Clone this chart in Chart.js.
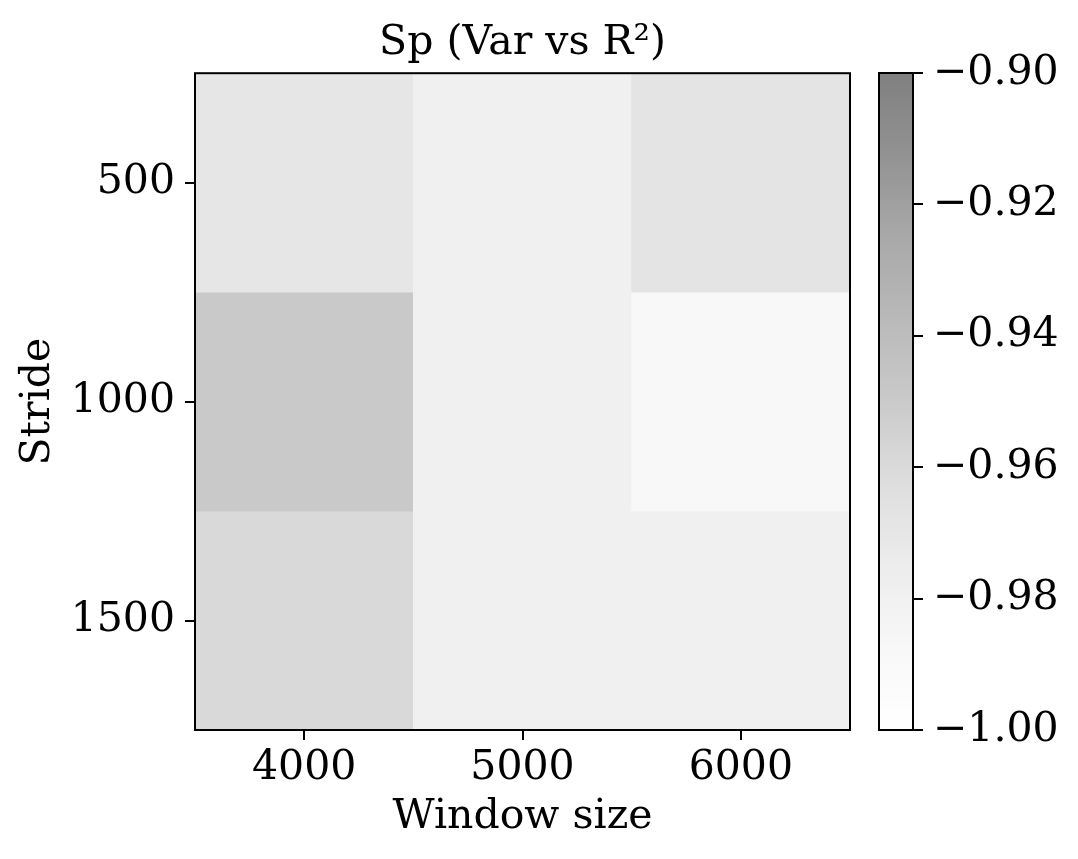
<!DOCTYPE html>
<html>
<head>
<meta charset="utf-8">
<script src="https://cdn.jsdelivr.net/npm/chart.js@4.4.1/dist/chart.umd.min.js"></script>
<style>
	html, body { margin: 0; padding: 0; background: #fff; }
	#wrap { position: relative; width: 1078px; height: 859px; }
	#wrap canvas { position: absolute; left: 0; top: 0; }
</style>
</head>
<body>
<div id="wrap">
	<canvas id="heat" width="1078" height="859"></canvas>
	<canvas id="cbar" width="1078" height="859"></canvas>
</div>
<script>
// axes
const windowSizes = ['4000', '5000', '6000'];
const strides = ['500', '1000', '1500'];

// Sp (Var vs R^2), one row per stride
const row500 = [-0.970, -0.979, -0.968];
const row1000 = [-0.949, -0.979, -0.988];
const row1500 = [-0.959, -0.979, -0.979];
const rows = [row500, row1000, row1500];

// colour bar
const vmin = -1.00;
const vmax = -0.90;
const cbTicks = [-1.00, -0.98, -0.96, -0.94, -0.92, -0.90];

// matplotlib "Greys", drawn at alpha 0.5 over white
const greys = [1.0, 0.9412, 0.8510, 0.7412, 0.5882, 0.4510, 0.3216, 0.1451, 0.0];
function cmap(v) {
	var t = Math.max(0, Math.min(1, (v - vmin) / (vmax - vmin)));
	var p = t * 8;
	var i = Math.min(7, Math.floor(p));
	var g = greys[i] + (greys[i + 1] - greys[i]) * (p - i);
	var c = Math.round(255 * (1 - 0.5 * (1 - g)));
	return 'rgb(' + c + ',' + c + ',' + c + ')';
}

const font = { family: 'DejaVu Serif', size: 41, weight: 'normal' };

// box round the plot area, like the matplotlib frame
const framePlugin = {
	id: 'frame',
	afterDraw(chart) {
		var ctx = chart.ctx, a = chart.chartArea;
		ctx.save();
		ctx.strokeStyle = '#000';
		ctx.lineWidth = 2;
		ctx.strokeRect(a.left, a.top, a.right - a.left, a.bottom - a.top);
		ctx.restore();
	}
};

const tickGrid = { drawOnChartArea: false, color: '#000', lineWidth: 2, tickLength: 10, tickWidth: 2 };

// heat map: one floating bar per cell
new Chart(document.getElementById('heat'), {
	type: 'bar',
	data: {
		labels: windowSizes,
		datasets: rows.map((vals, r) => ({
			label: strides[r],
			data: vals.map(() => [r - 0.5, r + 0.5]),
			backgroundColor: vals.map(cmap),
			borderWidth: 0,
			barPercentage: 1,
			categoryPercentage: 1,
			grouped: false
		}))
	},
	options: {
		responsive: false,
		animation: false,
		layout: { padding: { left: 0, right: 228, top: 0, bottom: 0 } },
		plugins: {
			legend: { display: false },
			tooltip: { enabled: false },
			title: {
				display: true,
				fullSize: false,
				text: 'Sp (Var vs R²)',
				color: '#000',
				font: font,
				padding: { top: 19, bottom: 5 }
			}
		},
		scales: {
			x: {
				grid: Object.assign({ offset: false }, tickGrid),
				border: { display: false },
				ticks: { color: '#000', font: font, padding: 4, maxRotation: 0 },
				title: { display: true, text: 'Window size', color: '#000', font: font, padding: { top: 4, bottom: 17 } },
				afterFit(s) { s.height = 129; }
			},
			y: {
				type: 'linear',
				reverse: true,
				min: -0.5,
				max: 2.5,
				afterBuildTicks(s) { s.ticks = strides.map((_, i) => ({ value: i })); },
				grid: tickGrid,
				border: { display: false },
				ticks: { color: '#000', font: font, padding: 10, callback: v => strides[v] },
				title: { display: true, text: 'Stride', color: '#000', font: font, padding: { top: 14, bottom: 0 } },
				afterFit(s) { s.width = 195; }
			}
		}
	},
	plugins: [framePlugin]
});

// colour bar: a single floating bar filled with the colour map
new Chart(document.getElementById('cbar'), {
	type: 'bar',
	data: {
		labels: [''],
		datasets: [{
			data: [[vmin, vmax]],
			backgroundColor(c) {
				var chart = c.chart;
				if (!chart.chartArea) return cmap(vmin);
				var ys = chart.scales.y;
				var grad = chart.ctx.createLinearGradient(0, ys.getPixelForValue(vmin), 0, ys.getPixelForValue(vmax));
				for (var i = 0; i <= 40; i++) {
					grad.addColorStop(i / 40, cmap(vmin + (vmax - vmin) * i / 40));
				}
				return grad;
			},
			borderWidth: 0,
			barPercentage: 1,
			categoryPercentage: 1
		}]
	},
	options: {
		responsive: false,
		animation: false,
		layout: { padding: { left: 879, right: 0, top: 73, bottom: 129 } },
		plugins: {
			legend: { display: false },
			tooltip: { enabled: false }
		},
		scales: {
			x: { display: false },
			y: {
				position: 'right',
				min: vmin,
				max: vmax,
				afterBuildTicks(s) { s.ticks = cbTicks.map(v => ({ value: v })); },
				grid: tickGrid,
				border: { display: false },
				ticks: { color: '#000', font: font, padding: 10, callback: v => v.toFixed(2).replace('-', '\u2212') },
				afterFit(s) { s.width = 165; }
			}
		}
	},
	plugins: [framePlugin]
});
</script>
</body>
</html>
